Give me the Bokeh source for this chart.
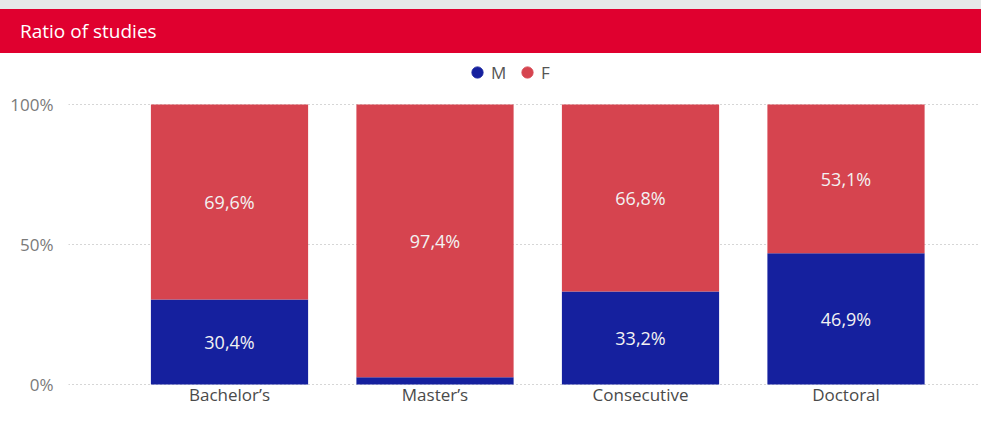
import numpy as np
from bokeh.plotting import figure
from bokeh.models import (ColumnDataSource, FixedTicker, Legend, LegendItem, Range1d, Div)
from bokeh.layouts import column
from bokeh.embed import file_html
from bokeh.resources import INLINE
from bokeh.core.properties import value

# ---- data ----
title_text = "Ratio of studies"
categories = ["Bachelor’s", "Master’s", "Consecutive", "Doctoral"]
series_names = ["M", "F"]
male = [30.4, 2.6, 33.2, 46.9]
female = [69.6, 97.4, 66.8, 53.1]
y_ticks = [0, 50, 100]
y_tick_labels = ["0%", "50%", "100%"]

# ---- styles / geometry ----
FONT = "Open Sans"
M_COLOR = "#15209E"
F_COLOR = "#D6444F"
HEADER = "#E0002F"
STRIP = "#E6E9E9"
W = 981
HEAD_H = 53
H = 353
PX_PER_PCT = 2.80          # vertical pixels per percentage point
ZERO_PX = 331               # figure y of the 0% line
CAT_LABEL_MID_PX = 341      # figure y of category label middle

header = Div(text=title_text, width=W, height=HEAD_H,
             styles={"box-sizing": "border-box",
                     "background": f"linear-gradient({STRIP} 0px, {STRIP} 9px, {HEADER} 9px, {HEADER} 100%)",
                     "color": "white", "font-family": FONT, "font-size": "19px",
                     "padding": "9px 0px 0px 20px", "line-height": "44px",
                     "margin": "0px", "overflow": "hidden", "white-space": "nowrap"})

y_start = -(H - ZERO_PX) / PX_PER_PCT
y_end = ZERO_PX / PX_PER_PCT

p = figure(width=W, height=H, output_backend="svg", toolbar_location=None,
           x_range=Range1d(-0.7835, 3.6545), y_range=Range1d(y_start, y_end),
           x_axis_location=None,
           min_border_left=68, min_border_right=1, min_border_top=0, min_border_bottom=0,
           outline_line_color=None, background_fill_color="white", border_fill_color="white")

x = list(range(len(categories)))
src = ColumnDataSource(dict(x=x, M=male, F=female))
p.vbar_stack(series_names, x="x", width=0.765, color=[M_COLOR, F_COLOR],
             line_color=None, source=src)

# data labels
lx, ly, lt = [], [], []
for i in range(len(categories)):
    if male[i] >= 5:
        lx.append(x[i]); ly.append(male[i] / 2)
        lt.append(f"{male[i]:.1f}".replace(".", ",") + "%")
    if female[i] >= 5:
        lx.append(x[i]); ly.append(male[i] + female[i] / 2)
        lt.append(f"{female[i]:.1f}".replace(".", ",") + "%")
lsrc = ColumnDataSource(dict(x=lx, y=ly, t=lt))
p.text(x="x", y="y", text="t", source=lsrc, text_color="#F2F2F2",
       text_font=value(FONT), text_font_size="18px",
       text_align="center", text_baseline="middle")

# category labels (under the bars)
cat_y = -(CAT_LABEL_MID_PX - ZERO_PX) / PX_PER_PCT
csrc = ColumnDataSource(dict(x=x, y=[cat_y] * len(x), t=categories))
p.text(x="x", y="y", text="t", source=csrc, text_color="#4A4A4A",
       text_font=value(FONT), text_font_size="17px",
       text_align="center", text_baseline="middle")

# legend with circle markers
rm = p.scatter(x=[np.nan], y=[np.nan], marker="circle", color=M_COLOR)
rf = p.scatter(x=[np.nan], y=[np.nan], marker="circle", color=F_COLOR)
legend = Legend(items=[LegendItem(label=series_names[0], renderers=[rm]),
                       LegendItem(label=series_names[1], renderers=[rf])],
                orientation="horizontal", location=(395, 319),
                glyph_width=28, glyph_height=30, label_standoff=0, spacing=2,
                padding=0, margin=0, border_line_color=None, background_fill_alpha=0,
                label_text_font=FONT, label_text_font_size="17px",
                label_text_color="#555555")
p.add_layout(legend, "center")

# grid
p.xgrid.visible = False
p.ygrid.ticker = FixedTicker(ticks=y_ticks)
p.ygrid.grid_line_color = "#ADADAD"
p.ygrid.grid_line_dash = "1 3"
p.ygrid.grid_line_width = 1

# y axis
p.yaxis.ticker = FixedTicker(ticks=y_ticks)
p.yaxis.major_label_overrides = {t: l for t, l in zip(y_ticks, y_tick_labels)}
p.yaxis.axis_line_color = None
p.yaxis.major_tick_line_color = None
p.yaxis.minor_tick_line_color = None
p.yaxis.major_tick_out = 0
p.yaxis.major_label_standoff = 15
p.yaxis.major_label_text_font = FONT
p.yaxis.major_label_text_font_size = "17px"
p.yaxis.major_label_text_color = "#7A7A7A"

layout = column(header, p, spacing=0)
open("out.html", "w").write(file_html(layout, INLINE))
